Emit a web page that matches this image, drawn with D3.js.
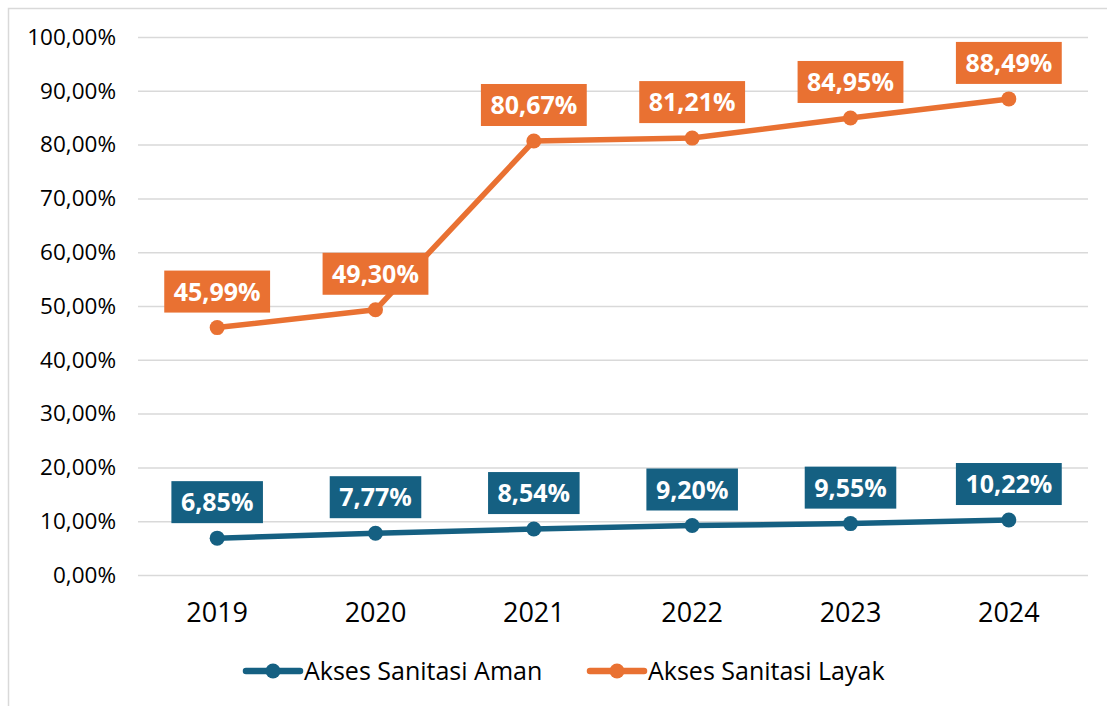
<!DOCTYPE html>
<html>
<head>
<meta charset="utf-8">
<script src="https://cdn.jsdelivr.net/npm/d3@7"></script>
<style>
  body { margin: 0; background: #fff; }
  svg { font-family: "Open Sans", sans-serif; }
</style>
</head>
<body>
<svg id="chart" width="1107" height="706"></svg>
<script>
// data
const years = ['2019', '2020', '2021', '2022', '2023', '2024'];
const aman = [6.85, 7.77, 8.54, 9.20, 9.55, 10.22];
const layak = [45.99, 49.30, 80.67, 81.21, 84.95, 88.49];
const yTicks = [0, 10, 20, 30, 40, 50, 60, 70, 80, 90, 100];

const seriesNames = ['Akses Sanitasi Aman', 'Akses Sanitasi Layak'];
const colors = ['#156082', '#E97132'];

const svg = d3.select('#chart');
const FONT = '"Open Sans", sans-serif';

// outer chart border
svg.append('rect')
  .attr('x', 8.5).attr('y', 8.5)
  .attr('width', 1110).attr('height', 720)
  .attr('fill', 'none').attr('stroke', '#d9d9d9').attr('stroke-width', 1.5);

const plotL = 138, plotR = 1088, plotT = 37, plotB = 575;

const x = d3.scaleBand().domain(years).range([plotL, plotR]);
const y = d3.scaleLinear().domain([0, 100]).range([plotB, plotT]);

const fmt = v => v.toFixed(2).replace('.', ',') + '%';

// gridlines + y labels
const yAxis = d3.axisLeft(y).tickValues(yTicks).tickSize(-(plotR - plotL)).tickFormat(fmt);
const gy = svg.append('g').attr('transform', `translate(${plotL},0)`).call(yAxis);
gy.select('.domain').remove();
gy.selectAll('.tick line').attr('stroke', '#d9d9d9').attr('stroke-width', 1.5);
gy.selectAll('.tick text').attr('x', -22).attr('fill', '#000')
  .style('font-size', '22.5px').style('font-family', FONT);

// x labels
const xAxis = d3.axisBottom(x).tickSize(0);
const gx = svg.append('g').attr('transform', `translate(0,${plotB})`).call(xAxis);
gx.select('.domain').remove();
gx.selectAll('.tick text').attr('y', 37).attr('dy', '0.36em').attr('fill', '#000')
  .style('font-size', '27px').style('font-family', FONT);

const cx = d => x(d) + x.bandwidth() / 2;

[aman, layak].forEach((vals, si) => {
  const pts = years.map((yr, i) => ({ yr, v: vals[i] }));
  const line = d3.line().x(d => cx(d.yr)).y(d => y(d.v));
  svg.append('path').datum(pts)
    .attr('d', line).attr('fill', 'none')
    .attr('stroke', colors[si]).attr('stroke-width', 5.5).attr('stroke-linejoin', 'round');

  svg.selectAll('.dot' + si).data(pts).enter().append('circle')
    .attr('cx', d => cx(d.yr)).attr('cy', d => y(d.v)).attr('r', 7.5)
    .attr('fill', colors[si]);

  // data labels in filled boxes
  const lab = svg.selectAll('.lab' + si).data(pts).enter().append('g')
    .attr('transform', d => `translate(${cx(d.yr)},${y(d.v) - 36})`);
  lab.append('text')
    .attr('text-anchor', 'middle').attr('dy', '0.36em')
    .attr('fill', '#fff').style('font-size', '25px').style('font-weight', 'bold')
    .text(d => fmt(d.v));
  lab.each(function () {
    const g = d3.select(this);
    const w = g.select('text').node().getComputedTextLength();
    g.insert('rect', 'text')
      .attr('x', -w / 2 - 9.5).attr('y', -21)
      .attr('width', w + 19).attr('height', 42)
      .attr('fill', colors[si]);
  });
});

// legend
const legendItems = [{ x: 246, t: 304 }, { x: 590, t: 648 }];
seriesNames.forEach((name, i) => {
  const g = svg.append('g');
  const lx = legendItems[i].x, ly = 671;
  g.append('line').attr('x1', lx).attr('x2', lx + 54).attr('y1', ly).attr('y2', ly)
    .attr('stroke', colors[i]).attr('stroke-width', 6.5).attr('stroke-linecap', 'round');
  g.append('circle').attr('cx', lx + 27).attr('cy', ly).attr('r', 7.5).attr('fill', colors[i]);
  g.append('text').attr('x', legendItems[i].t).attr('y', ly).attr('dy', '0.36em')
    .attr('fill', '#000').style('font-size', '25px').text(name);
});
</script>
</body>
</html>
